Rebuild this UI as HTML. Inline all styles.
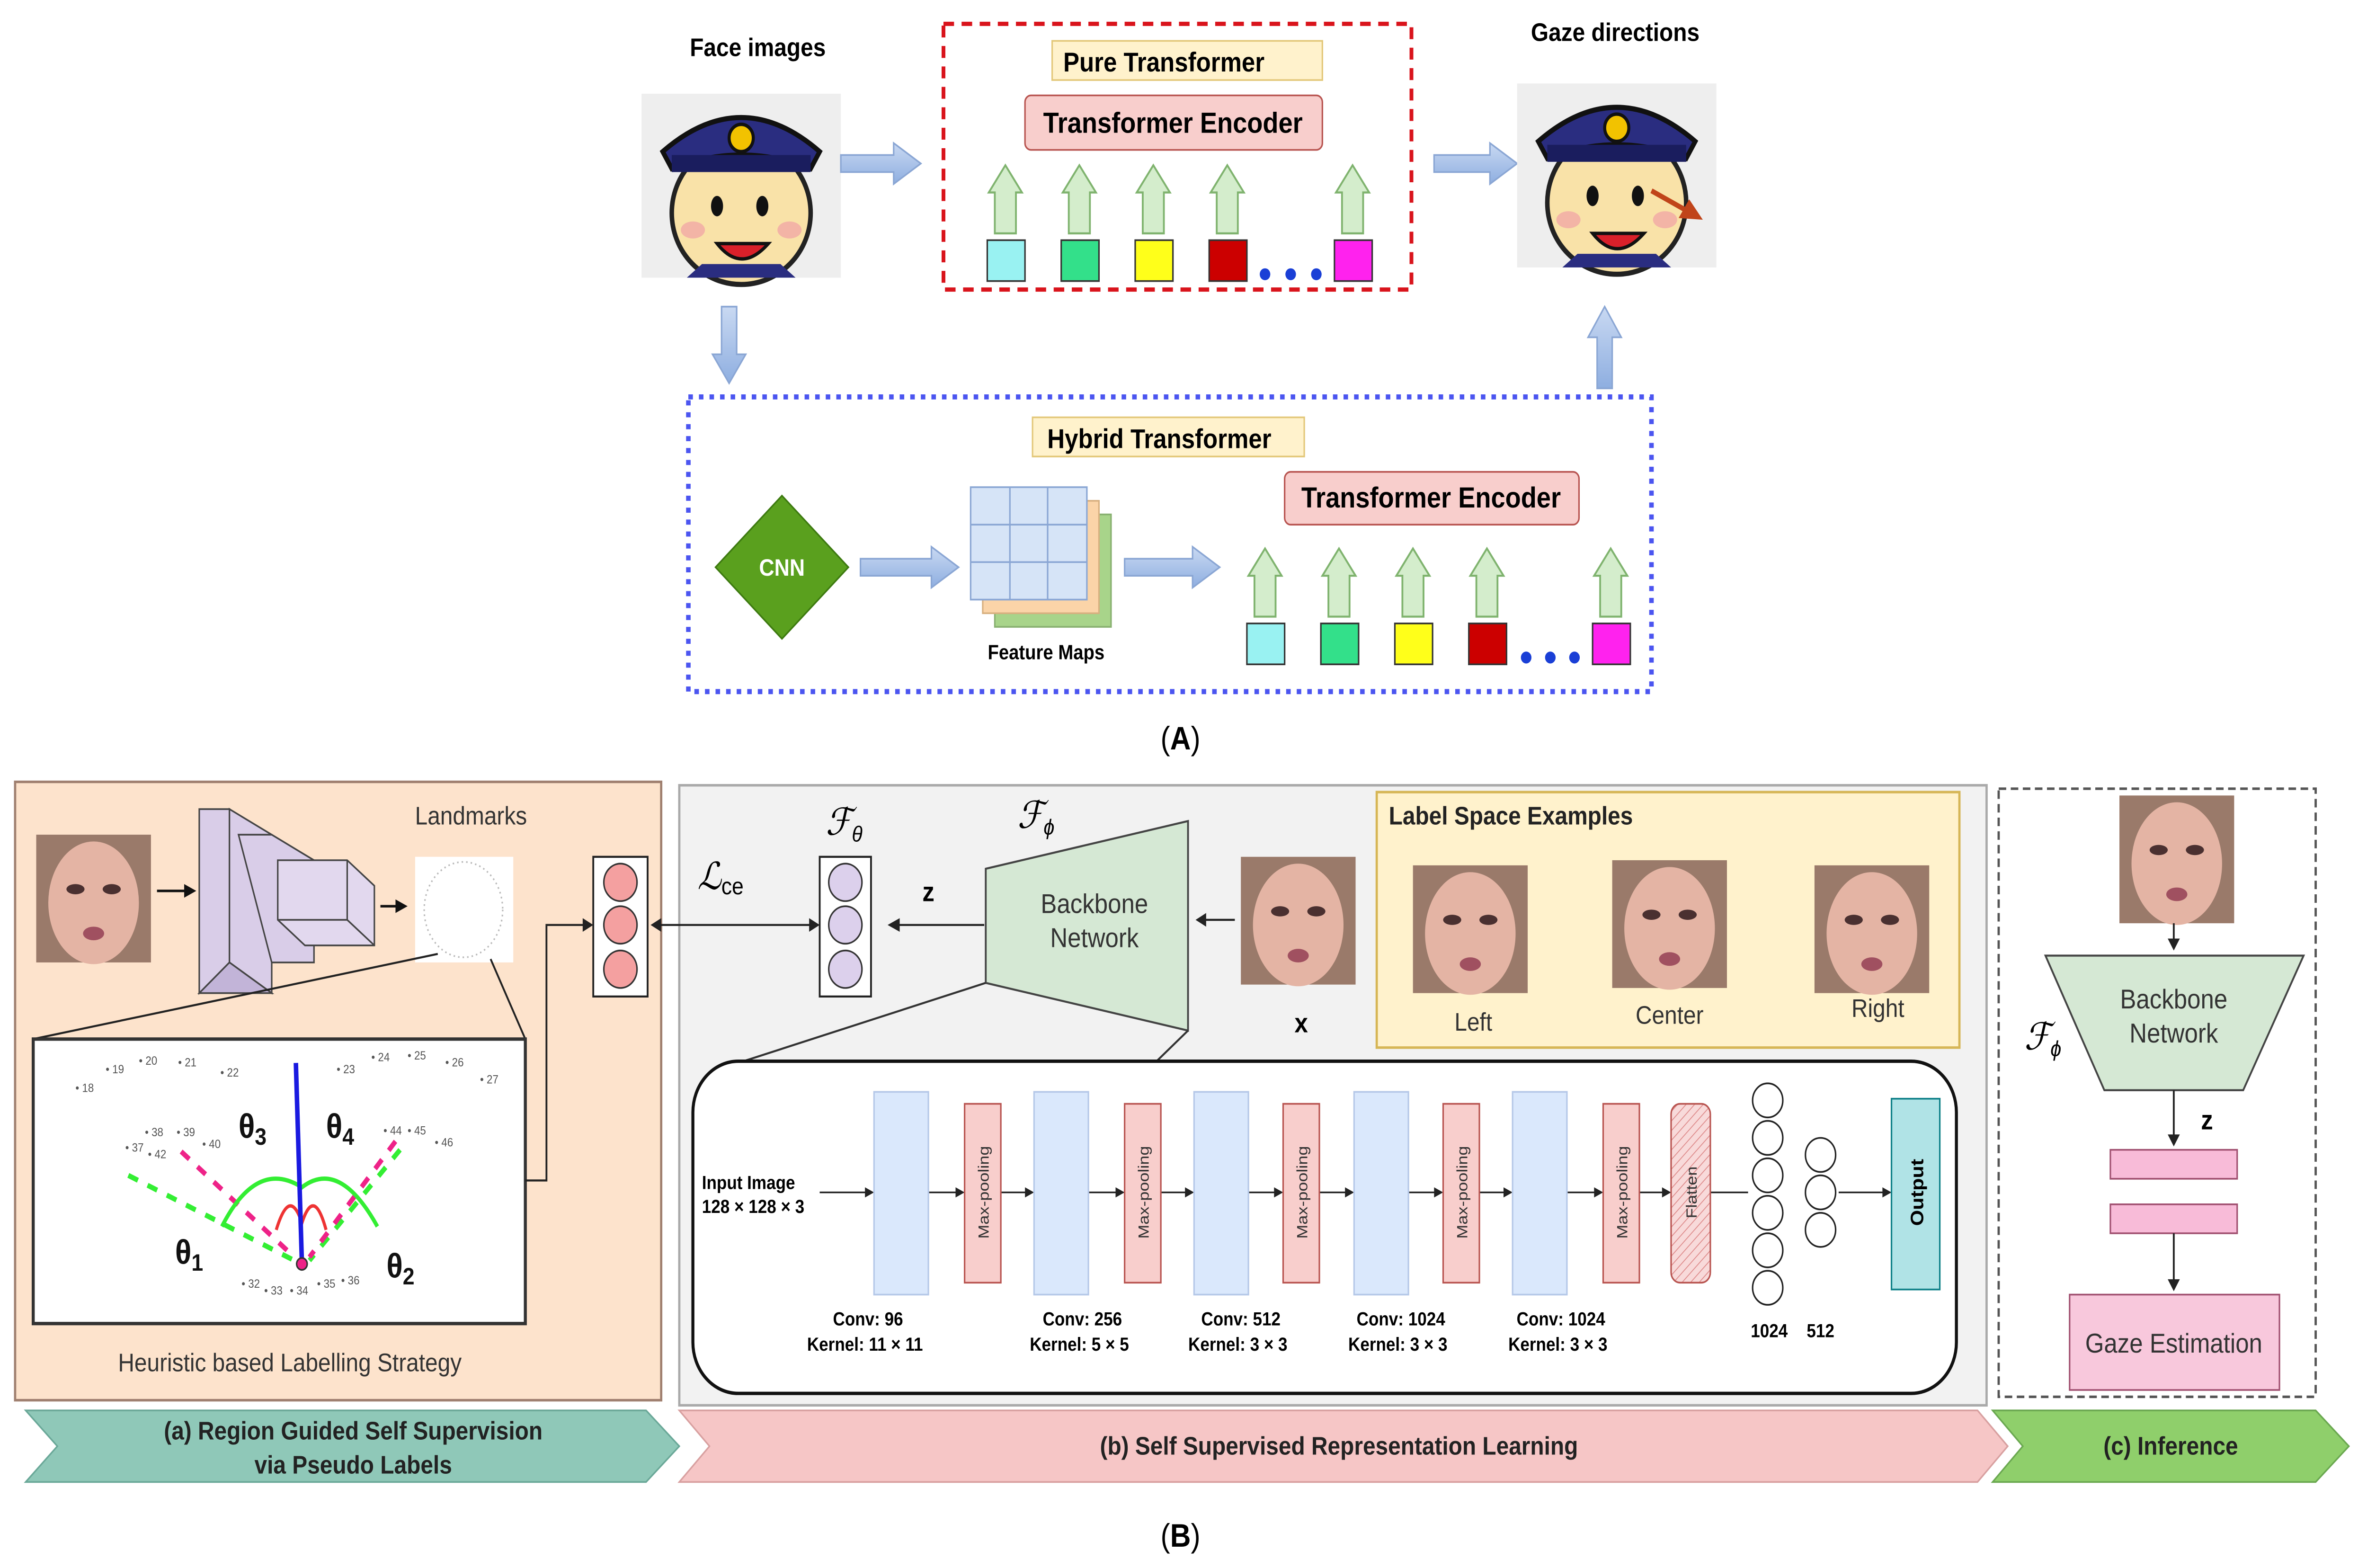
<!DOCTYPE html>
<html><head><meta charset="utf-8"><style>
html,body{margin:0;padding:0;background:#fff;width:100%;height:100%;overflow:hidden;}
svg{display:block;position:absolute;left:0;top:0;width:100vw;height:100vh;}
text{font-family:"Liberation Sans",sans-serif;}
.b{font-weight:bold;}
</style></head><body>
<svg viewBox="0 0 1568 920.5" preserveAspectRatio="none" xmlns="http://www.w3.org/2000/svg">
<defs>
<linearGradient id="ba" x1="0" y1="0" x2="0" y2="1"><stop offset="0" stop-color="#c9d9f2"/><stop offset="1" stop-color="#8eaee0"/></linearGradient>
<pattern id="hatch" width="4" height="4" patternUnits="userSpaceOnUse" patternTransform="rotate(45)"><rect width="4" height="4" fill="#f8dada"/><line x1="0" y1="0" x2="0" y2="4" stroke="#d88" stroke-width="1"/></pattern>
<g id="cface">
<rect x="0" y="0" width="132" height="108" fill="#eeeeee"/>
<ellipse cx="66" cy="70" rx="46" ry="42" fill="#f9e2a8" stroke="#222" stroke-width="3"/>
<path d="M14 34 Q66 -6 118 34 L112 44 Q66 28 20 44 Z" fill="#2a2d80" stroke="#111" stroke-width="3"/>
<rect x="20" y="36" width="92" height="10" fill="#1a1d5e"/>
<circle cx="66" cy="26" r="8" fill="#f2c200" stroke="#111" stroke-width="2"/>
<ellipse cx="50" cy="66" rx="4" ry="6" fill="#111"/><ellipse cx="80" cy="66" rx="4" ry="6" fill="#111"/>
<ellipse cx="34" cy="80" rx="8" ry="5" fill="#f3b4a6"/><ellipse cx="98" cy="80" rx="8" ry="5" fill="#f3b4a6"/>
<path d="M50 88 Q66 106 84 88 Z" fill="#d9202a" stroke="#111" stroke-width="2"/>
<path d="M30 108 L40 100 L92 100 L102 108 Z" fill="#2a2d80"/>
</g>
<g id="pface">
<rect width="76" height="75" fill="#9a7a6a"/>
<ellipse cx="38" cy="40" rx="30" ry="36" fill="#e4b4a4"/>
<ellipse cx="26" cy="32" rx="6" ry="3" fill="#4a3030"/><ellipse cx="50" cy="32" rx="6" ry="3" fill="#4a3030"/>
<ellipse cx="38" cy="58" rx="7" ry="4" fill="#a05060"/>
</g>
</defs>

<!-- (A) -->
<text x="502" y="33" class="b" font-size="15" text-anchor="middle">Face images</text>
<use href="#cface" x="425" y="55"/>
<polygon points="557,91 592,91 592,84 610,96 592,108 592,101 557,101" fill="url(#ba)" stroke="#8aa6d4" stroke-width="1"/>
<rect x="625" y="14" width="310" height="156" fill="none" stroke="#d9141c" stroke-width="2.5" stroke-dasharray="7,5"/>
<rect x="697" y="24" width="179" height="23" fill="#fff2cc" stroke="#e3c87a"/>
<text x="771" y="42" class="b" font-size="16" text-anchor="middle">Pure Transformer</text>
<rect x="679" y="56" width="197" height="32" rx="4" fill="#f8cecc" stroke="#b85450"/>
<text x="777" y="78" class="b" font-size="17" text-anchor="middle">Transformer Encoder</text>
<g fill="#d4edcc" stroke="#7fb36e" stroke-width="1.2">
<polygon points="659,137 659,113 655,113 666,97 677,113 673,113 673,137"/>
<polygon points="708,137 708,113 704,113 715,97 726,113 722,113 722,137"/>
<polygon points="757,137 757,113 753,113 764,97 775,113 771,113 771,137"/>
<polygon points="806,137 806,113 802,113 813,97 824,113 820,113 820,137"/>
<polygon points="889,137 889,113 885,113 896,97 907,113 903,113 903,137"/>
</g>
<g stroke="#333" stroke-width="1">
<rect x="654" y="141" width="25" height="24" fill="#99f2f2"/>
<rect x="703" y="141" width="25" height="24" fill="#33e08a"/>
<rect x="752" y="141" width="25" height="24" fill="#ffff1a"/>
<rect x="801" y="141" width="25" height="24" fill="#cc0000"/>
<rect x="884" y="141" width="25" height="24" fill="#ff22ee"/>
</g>
<g fill="#1a3fd6"><circle cx="838" cy="161" r="3.5"/><circle cx="855" cy="161" r="3.5"/><circle cx="872" cy="161" r="3.5"/></g>
<polygon points="950,91 987,91 987,84 1005,96 987,108 987,101 950,101" fill="url(#ba)" stroke="#8aa6d4"/>
<text x="1070" y="24" class="b" font-size="15" text-anchor="middle">Gaze directions</text>
<use href="#cface" x="1005" y="49"/>
<line x1="1094" y1="112" x2="1118" y2="124" stroke="#c0441a" stroke-width="3"/>
<polygon points="1128,129 1112,128 1119,117" fill="#c0441a"/>
<polygon points="478,180 488,180 488,208 494,208 483,225 472,208 478,208" fill="url(#ba)" stroke="#8aa6d4"/>
<polygon points="1058,228 1068,228 1068,198 1074,198 1063,180 1052,198 1058,198" fill="url(#ba)" stroke="#8aa6d4"/>
<rect x="456" y="233" width="638" height="173" fill="none" stroke="#4b55f0" stroke-width="3" stroke-dasharray="3,4"/>
<rect x="684" y="245" width="180" height="23" fill="#fff2cc" stroke="#e3c87a"/>
<text x="768" y="263" class="b" font-size="16" text-anchor="middle">Hybrid Transformer</text>
<polygon points="518,291 562,333 518,375 474,333" fill="#5aa01e" stroke="#3d7a10"/>
<text x="518" y="338" class="b" font-size="14" fill="#fff" text-anchor="middle">CNN</text>
<polygon points="570,328 617,328 617,321 635,333 617,345 617,338 570,338" fill="url(#ba)" stroke="#8aa6d4"/>
<rect x="659" y="302" width="77" height="66" fill="#a8d48a" stroke="#88b070"/>
<rect x="651" y="294" width="77" height="66" fill="#fbd4a8" stroke="#d8b080"/>
<rect x="643" y="286" width="77" height="66" fill="#d6e4f7" stroke="#8aa6d4"/>
<g stroke="#8aa6d4"><line x1="669" y1="286" x2="669" y2="352"/><line x1="694" y1="286" x2="694" y2="352"/><line x1="643" y1="308" x2="720" y2="308"/><line x1="643" y1="330" x2="720" y2="330"/></g>
<text x="693" y="387" class="b" font-size="12" text-anchor="middle">Feature Maps</text>
<polygon points="745,328 790,328 790,321 808,333 790,345 790,338 745,338" fill="url(#ba)" stroke="#8aa6d4"/>
<rect x="851" y="277" width="195" height="31" rx="4" fill="#f8cecc" stroke="#b85450"/>
<text x="948" y="298" class="b" font-size="17" text-anchor="middle">Transformer Encoder</text>
<g fill="#d4edcc" stroke="#7fb36e" stroke-width="1.2">
<polygon points="831,362 831,338 827,338 838,322 849,338 845,338 845,362"/>
<polygon points="880,362 880,338 876,338 887,322 898,338 894,338 894,362"/>
<polygon points="929,362 929,338 925,338 936,322 947,338 943,338 943,362"/>
<polygon points="978,362 978,338 974,338 985,322 996,338 992,338 992,362"/>
<polygon points="1060,362 1060,338 1056,338 1067,322 1078,338 1074,338 1074,362"/>
</g>
<g stroke="#333" stroke-width="1">
<rect x="826" y="366" width="25" height="24" fill="#99f2f2"/>
<rect x="875" y="366" width="25" height="24" fill="#33e08a"/>
<rect x="924" y="366" width="25" height="24" fill="#ffff1a"/>
<rect x="973" y="366" width="25" height="24" fill="#cc0000"/>
<rect x="1055" y="366" width="25" height="24" fill="#ff22ee"/>
</g>
<g fill="#1a3fd6"><circle cx="1011" cy="386" r="3.5"/><circle cx="1027" cy="386" r="3.5"/><circle cx="1043" cy="386" r="3.5"/></g>
<text x="782" y="440" font-size="19" text-anchor="middle" font-family="Liberation Serif">(<tspan font-weight="bold">A</tspan>)</text>

<!-- (B) panel a -->
<rect x="10" y="459" width="428" height="363" fill="#fde3cc" stroke="#a08070" stroke-width="1.5"/>
<use href="#pface" x="24" y="490"/>
<line x1="104" y1="523" x2="126" y2="523" stroke="#111" stroke-width="1.5"/><polygon points="130,523 122,519 122,527" fill="#111"/>
<g fill="#d9cde8" stroke="#444" stroke-width="1">
<polygon points="132,475 152,475 152,565 132,583"/><polygon points="152,475 180,490 180,583 152,565"/>
<polygon points="132,583 152,565 180,583 160,583" fill="#c2b4d8"/>
<polygon points="158,490 180,490 208,505 208,565 180,565"/>
<polygon points="184,505 230,505 248,520 248,555 202,555 184,540" fill="#e2d8ee"/>
<line x1="184" y1="540" x2="230" y2="540"/><line x1="230" y1="505" x2="230" y2="540"/><line x1="230" y1="540" x2="248" y2="555"/>
</g>
<line x1="252" y1="532" x2="266" y2="532" stroke="#111" stroke-width="1.5"/><polygon points="270,532 262,528 262,536" fill="#111"/>
<text x="312" y="484" font-size="15" fill="#333" text-anchor="middle">Landmarks</text>
<rect x="275" y="503" width="65" height="62" fill="#fff"/>
<ellipse cx="307" cy="534" rx="26" ry="28" fill="none" stroke="#bbb" stroke-dasharray="1,2"/>
<line x1="22" y1="610" x2="290" y2="560" stroke="#222" stroke-width="1.2"/>
<line x1="348" y1="610" x2="325" y2="563" stroke="#222" stroke-width="1.2"/>
<rect x="22" y="610" width="326" height="167" fill="#fff" stroke="#333" stroke-width="2"/>
<g font-size="7" fill="#555">
<text x="50" y="641">• 18</text><text x="70" y="630">• 19</text><text x="92" y="625">• 20</text><text x="118" y="626">• 21</text><text x="146" y="632">• 22</text>
<text x="223" y="630">• 23</text><text x="246" y="623">• 24</text><text x="270" y="622">• 25</text><text x="295" y="626">• 26</text><text x="318" y="636">• 27</text>
<text x="83" y="676">• 37</text><text x="96" y="667">• 38</text><text x="117" y="667">• 39</text><text x="134" y="674">• 40</text><text x="98" y="680">• 42</text>
<text x="254" y="666">• 44</text><text x="270" y="666">• 45</text><text x="288" y="673">• 46</text>
<text x="160" y="756">• 32</text><text x="175" y="760">• 33</text><text x="192" y="760">• 34</text><text x="210" y="756">• 35</text><text x="226" y="754">• 36</text>
</g>
<g fill="none" stroke-linecap="butt">
<path d="M85 690 L195 740 M265 675 L205 740" stroke="#33ee33" stroke-width="3" stroke-dasharray="7,7"/>
<path d="M120 676 L195 738 M262 670 L205 738" stroke="#ee2288" stroke-width="3" stroke-dasharray="7,7"/>
<path d="M147 720 Q170 680 200 697 Q225 680 250 720" stroke="#33ee33" stroke-width="2.5"/>
<path d="M183 722 Q192 696 200 718 Q208 696 216 722" stroke="#ee3333" stroke-width="2"/>
<line x1="196" y1="624" x2="200" y2="742" stroke="#1a1ae0" stroke-width="3"/>
</g>
<circle cx="200" cy="742" r="3.5" fill="#ee2288" stroke="#333"/>
<g font-size="20" class="b" fill="#111">
<text x="158" y="668">θ<tspan font-size="14" dy="4">3</tspan></text>
<text x="216" y="668">θ<tspan font-size="14" dy="4">4</tspan></text>
<text x="116" y="742">θ<tspan font-size="14" dy="4">1</tspan></text>
<text x="256" y="750">θ<tspan font-size="14" dy="4">2</tspan></text>
</g>
<text x="192" y="805" font-size="15" fill="#333" text-anchor="middle">Heuristic based Labelling Strategy</text>
<path d="M348 693 L362 693 L362 543 L389 543" fill="none" stroke="#222" stroke-width="1.2"/>
<polygon points="393,543 386,539 386,547" fill="#222"/>
<rect x="393" y="503" width="36" height="82" fill="#fff" stroke="#222" stroke-width="1.2"/>
<g fill="#f4a0a0" stroke="#333"><circle cx="411" cy="518" r="11"/><circle cx="411" cy="543" r="11"/><circle cx="411" cy="569" r="11"/></g>

<!-- panel b -->
<rect x="450" y="461" width="866" height="364" fill="#f2f2f2" stroke="#aaa" stroke-width="1.5"/>
<line x1="433" y1="543" x2="539" y2="543" stroke="#222" stroke-width="1.2"/>
<polygon points="431,543 438,539 438,547" fill="#222"/><polygon points="543,543 536,539 536,547" fill="#222"/>
<text x="462" y="522" font-size="22" font-family="Liberation Serif" font-style="italic">ℒ<tspan font-size="14" font-style="normal" dy="3">ce</tspan></text>
<text x="547" y="490" font-size="22" font-family="Liberation Serif" font-style="italic">ℱ<tspan font-size="13" dy="4">θ</tspan></text>
<rect x="543" y="503" width="34" height="82" fill="#fff" stroke="#222" stroke-width="1.2"/>
<g fill="#dcd0ec" stroke="#333"><circle cx="560" cy="518" r="11"/><circle cx="560" cy="543" r="11"/><circle cx="560" cy="569" r="11"/></g>
<line x1="594" y1="543" x2="652" y2="543" stroke="#222" stroke-width="1.2"/><polygon points="588,543 596,539 596,547" fill="#222"/>
<text x="615" y="529" class="b" font-size="16" text-anchor="middle">z</text>
<polygon points="653,510 787,482 787,605 653,577" fill="#d5e8d4" stroke="#444" stroke-width="1.2"/>
<text x="725" y="536" font-size="16" fill="#333" text-anchor="middle">Backbone</text>
<text x="725" y="556" font-size="16" fill="#333" text-anchor="middle">Network</text>
<text x="674" y="486" font-size="22" font-family="Liberation Serif" font-style="italic">ℱ<tspan font-size="13" dy="4">ϕ</tspan></text>
<line x1="796" y1="540" x2="818" y2="540" stroke="#222" stroke-width="1.2"/><polygon points="792,540 799,536 799,544" fill="#222"/>
<use href="#pface" x="822" y="503"/>
<text x="862" y="606" class="b" font-size="16" text-anchor="middle">x</text>
<rect x="912" y="465" width="386" height="150" fill="#fff2cc" stroke="#d6b656" stroke-width="1.5"/>
<text x="920" y="484" class="b" font-size="15" fill="#222">Label Space Examples</text>
<use href="#pface" x="936" y="508"/><use href="#pface" x="1068" y="505"/><use href="#pface" x="1202" y="508"/>
<text x="976" y="605" font-size="15" fill="#333" text-anchor="middle">Left</text>
<text x="1106" y="601" font-size="15" fill="#333" text-anchor="middle">Center</text>
<text x="1244" y="597" font-size="15" fill="#333" text-anchor="middle">Right</text>
<line x1="653" y1="577" x2="489" y2="624" stroke="#333" stroke-width="1.2"/>
<line x1="787" y1="605" x2="765" y2="624" stroke="#333" stroke-width="1.2"/>
<rect x="459" y="623" width="837" height="195" rx="30" fill="#fff" stroke="#111" stroke-width="2"/>
<text x="465" y="698" class="b" font-size="11">Input Image</text>
<text x="465" y="712" class="b" font-size="11">128 × 128 × 3</text>
<g stroke="#222" stroke-width="1" fill="none">
<path d="M543 700 H575 M615 700 H635 M663 700 H681 M721 700 H741 M769 700 H787 M827 700 H846 M874 700 H893 M933 700 H952 M980 700 H998 M1038 700 H1058 M1086 700 H1103 M1133 700 H1158 M1218 700 H1249"/>
</g>
<g fill="#222">
<polygon points="579,700 573,697 573,703"/><polygon points="639,700 633,697 633,703"/><polygon points="685,700 679,697 679,703"/><polygon points="745,700 739,697 739,703"/><polygon points="791,700 785,697 785,703"/><polygon points="850,700 844,697 844,703"/><polygon points="897,700 891,697 891,703"/><polygon points="956,700 950,697 950,703"/><polygon points="1002,700 996,697 996,703"/><polygon points="1062,700 1056,697 1056,703"/><polygon points="1107,700 1101,697 1101,703"/><polygon points="1253,700 1247,697 1247,703"/>
</g>
<g fill="#dae8fc" stroke="#b5c8e8">
<rect x="579" y="641" width="36" height="119"/><rect x="685" y="641" width="36" height="119"/><rect x="791" y="641" width="36" height="119"/><rect x="897" y="641" width="36" height="119"/><rect x="1002" y="641" width="36" height="119"/>
</g>
<g fill="#f8cecc" stroke="#b85450">
<rect x="639" y="648" width="24" height="105"/><rect x="745" y="648" width="24" height="105"/><rect x="850" y="648" width="24" height="105"/><rect x="956" y="648" width="24" height="105"/><rect x="1062" y="648" width="24" height="105"/>
</g>
<rect x="1107" y="648" width="26" height="105" rx="6" fill="url(#hatch)" stroke="#b85450"/>
<g font-size="10" fill="#333" text-anchor="middle">
<text transform="translate(655,700) rotate(-90)">Max-pooling</text><text transform="translate(761,700) rotate(-90)">Max-pooling</text><text transform="translate(866,700) rotate(-90)">Max-pooling</text><text transform="translate(972,700) rotate(-90)">Max-pooling</text><text transform="translate(1078,700) rotate(-90)">Max-pooling</text><text transform="translate(1124,700) rotate(-90)">Flatten</text>
</g>
<g fill="#fff" stroke="#222"><circle cx="1171" cy="646" r="10"/><circle cx="1171" cy="668" r="10"/><circle cx="1171" cy="690" r="10"/><circle cx="1171" cy="712" r="10"/><circle cx="1171" cy="734" r="10"/><circle cx="1171" cy="756" r="10"/>
<circle cx="1206" cy="678" r="10"/><circle cx="1206" cy="700" r="10"/><circle cx="1206" cy="722" r="10"/></g>
<rect x="1253" y="645" width="32" height="112" fill="#b0e3e6" stroke="#0e8088"/>
<text transform="translate(1274,700) rotate(-90)" class="b" font-size="12" text-anchor="middle">Output</text>
<g class="b" font-size="11" text-anchor="middle">
<text x="575" y="778">Conv: 96</text><text x="573" y="793">Kernel: 11 × 11</text>
<text x="717" y="778">Conv: 256</text><text x="715" y="793">Kernel: 5 × 5</text>
<text x="822" y="778">Conv: 512</text><text x="820" y="793">Kernel: 3 × 3</text>
<text x="928" y="778">Conv: 1024</text><text x="926" y="793">Kernel: 3 × 3</text>
<text x="1034" y="778">Conv: 1024</text><text x="1032" y="793">Kernel: 3 × 3</text>
<text x="1172" y="785">1024</text><text x="1206" y="785">512</text>
</g>

<!-- panel c -->
<rect x="1324" y="463" width="210" height="357" fill="#fff" stroke="#555" stroke-width="1.5" stroke-dasharray="5,3"/>
<use href="#pface" x="1404" y="467"/>
<line x1="1440" y1="542" x2="1440" y2="553" stroke="#222" stroke-width="1.2"/><polygon points="1440,558 1436,551 1444,551" fill="#222"/>
<polygon points="1355,561 1526,561 1486,640 1394,640" fill="#d5e8d4" stroke="#444" stroke-width="1.2"/>
<text x="1440" y="592" font-size="16" fill="#333" text-anchor="middle">Backbone</text>
<text x="1440" y="612" font-size="16" fill="#333" text-anchor="middle">Network</text>
<text x="1341" y="616" font-size="22" font-family="Liberation Serif" font-style="italic">ℱ<tspan font-size="13" dy="4">ϕ</tspan></text>
<line x1="1440" y1="640" x2="1440" y2="668" stroke="#222" stroke-width="1.2"/><polygon points="1440,673 1436,666 1444,666" fill="#222"/>
<text x="1462" y="663" class="b" font-size="16" text-anchor="middle">z</text>
<rect x="1398" y="675" width="84" height="17" fill="#f8bbd8" stroke="#a05070"/>
<rect x="1398" y="707" width="84" height="17" fill="#f8bbd8" stroke="#a05070"/>
<line x1="1440" y1="724" x2="1440" y2="753" stroke="#222" stroke-width="1.2"/><polygon points="1440,758 1436,751 1444,751" fill="#222"/>
<rect x="1371" y="760" width="139" height="56" fill="#f8c8dc" stroke="#a05070"/>
<text x="1440" y="794" font-size="16" fill="#333" text-anchor="middle">Gaze Estimation</text>

<!-- chevrons -->
<polygon points="17,828 428,828 450,849 428,870 17,870 38,849" fill="#8fc8b8" stroke="#6aa898"/>
<polygon points="450,828 1310,828 1330,849 1310,870 450,870 470,849" fill="#f6c6c6" stroke="#d8a0a0"/>
<polygon points="1320,828 1534,828 1556,849 1534,870 1320,870 1340,849" fill="#8fcf6b" stroke="#6aa850"/>
<g class="b" font-size="15" fill="#222" text-anchor="middle">
<text x="234" y="845">(a) Region Guided Self Supervision</text><text x="234" y="865">via Pseudo Labels</text>
<text x="887" y="854">(b) Self Supervised Representation Learning</text>
<text x="1438" y="854">(c) Inference</text>
</g>
<text x="782" y="908" font-size="19" text-anchor="middle" font-family="Liberation Serif">(<tspan font-weight="bold">B</tspan>)</text>
</svg>
</body></html>
